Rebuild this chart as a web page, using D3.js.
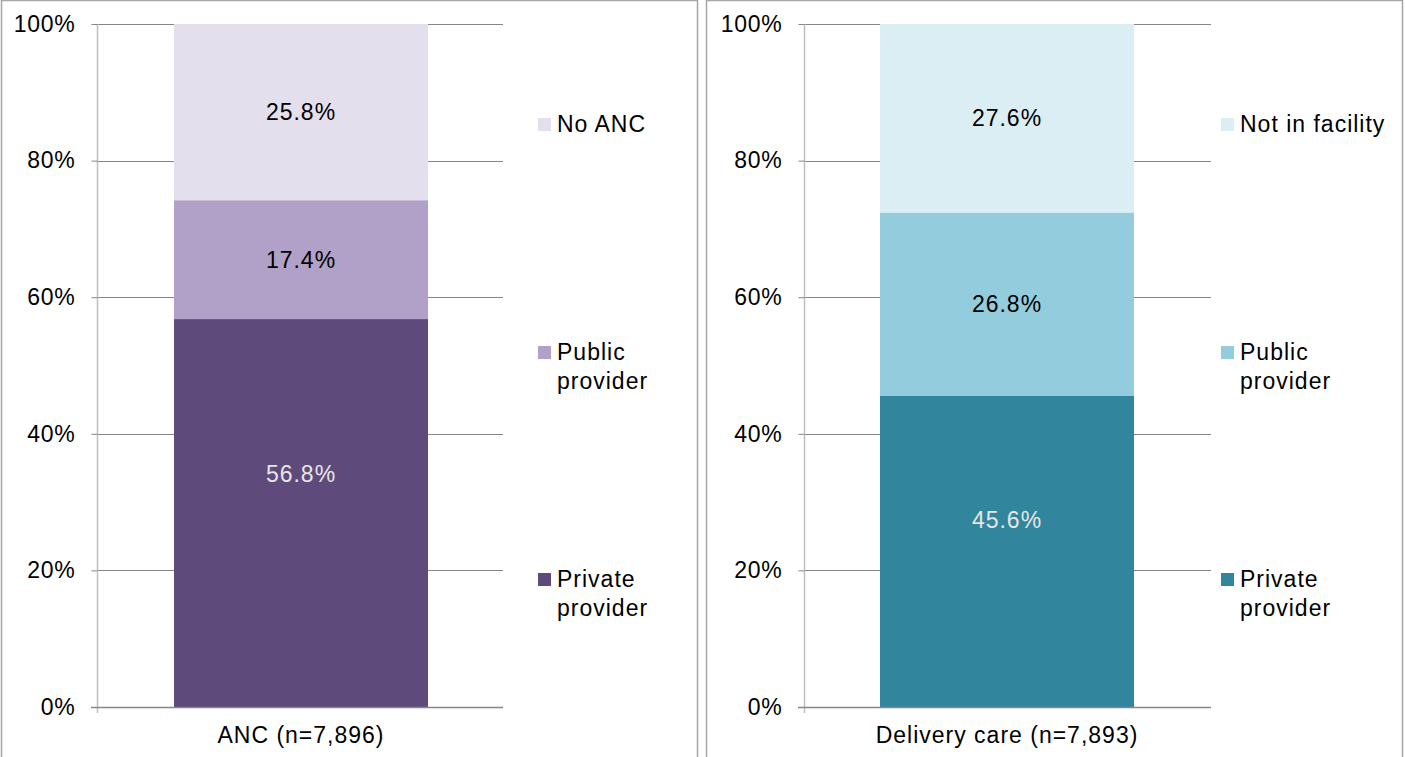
<!doctype html>
<html lang="en">
<head>
<meta charset="UTF-8">
<script src="https://d3js.org/d3.v7.min.js"></script>
<style>
body { margin: 0; background: #fff; font-family: "Liberation Sans", Arial, sans-serif; }
svg text { font-family: "Liberation Sans", Arial, sans-serif; letter-spacing: 1px; }
svg .tick text { letter-spacing: 0.7px; }
</style>
</head>
<body>
<svg id="chart" width="1405" height="757"></svg>
<script>
// data
var categories = ["Private provider", "Public provider", "No ANC"];
var ancValues = [56.8, 17.4, 25.8];
var ancLegend = ["Private\nprovider", "Public\nprovider", "No ANC"];
var ancColors = ["#5f4b7b", "#b1a0c7", "#e4dfec"];

var delivValues = [45.6, 26.8, 27.6];
var delivLegend = ["Private\nprovider", "Public\nprovider", "Not in facility"];
var delivColors = ["#31859c", "#93cddd", "#daeef3"];

var yTicks = [0, 20, 40, 60, 80, 100];

var panels = [
  {x0: 1, x1: 697, axisX: 97, gridEnd: 503, barX: 174, barW: 254, label: "ANC (n=7,896)",
   values: ancValues, legend: ancLegend, colors: ancColors, legX: 538},
  {x0: 706, x1: 1402, axisX: 804, gridEnd: 1211, barX: 880, barW: 254, label: "Delivery care (n=7,893)",
   values: delivValues, legend: delivLegend, colors: delivColors, legX: 1221}
];

// baseline of first legend line per entry
var legendBase = [587, 360, 132];
var FS = 23;

var svg = d3.select("#chart");
var y = d3.scaleLinear().domain([0, 100]).range([707, 24]);

panels.forEach(function(p) {
  var g = svg.append("g");

  g.append("rect")
    .attr("x", p.x0 + 0.5).attr("y", 0.5)
    .attr("width", p.x1 - p.x0).attr("height", 780)
    .attr("fill", "none").attr("stroke", "#a6a6a6").attr("stroke-width", 1.5);

  // gridlines
  g.selectAll(".grid").data(yTicks.slice(1)).enter().append("line")
    .attr("x1", p.axisX).attr("x2", p.gridEnd)
    .attr("y1", function(d) { return Math.round(y(d)) + 0.5; })
    .attr("y2", function(d) { return Math.round(y(d)) + 0.5; })
    .attr("stroke", "#868686").attr("stroke-width", 1);

  // stacked bar
  var cum = 0;
  var segs = p.values.map(function(v, i) {
    var s = {lo: cum, hi: cum + v, v: v, c: p.colors[i], i: i};
    cum += v;
    return s;
  });
  g.selectAll(".seg").data(segs).enter().append("rect")
    .attr("x", p.barX).attr("width", p.barW)
    .attr("y", function(d) { return y(Math.min(d.hi, 100)); })
    .attr("height", function(d) { return y(d.lo) - y(Math.min(d.hi, 100)); })
    .attr("fill", function(d) { return d.c; });

  g.selectAll(".val").data(segs).enter().append("text")
    .attr("x", p.barX + p.barW / 2)
    .attr("y", function(d) {
      var mid = d.i === 0 ? d.v * 0.6 : (d.lo + Math.min(d.hi, 100)) / 2;
      return y(mid) + 8;
    })
    .attr("text-anchor", "middle")
    .attr("font-size", FS)
    .attr("fill", function(d) { return d.i === 0 ? "#e6e6e6" : "#000"; })
    .text(function(d) { return d.v.toFixed(1) + "%"; });

  // axis
  var axis = d3.axisLeft(y).tickValues(yTicks).tickSize(6).tickPadding(16)
    .tickFormat(function(d) { return d + "%"; });
  var ag = g.append("g").attr("transform", "translate(" + (p.axisX + 0.5) + ",0)").call(axis);
  ag.select(".domain").attr("stroke", "#bfbfbf").attr("stroke-width", 1.5).attr("d", "M0,24V713");
  ag.selectAll(".tick line").attr("stroke", "#868686");
  ag.selectAll(".tick text").attr("font-size", FS).attr("fill", "#000")
    .attr("font-family", "Liberation Sans, Arial, sans-serif");

  // baseline
  g.append("line")
    .attr("x1", p.axisX - 6).attr("x2", p.gridEnd)
    .attr("y1", y(0) + 0.5).attr("y2", y(0) + 0.5)
    .attr("stroke", "#868686").attr("stroke-width", 1.5);

  // x label
  g.append("text")
    .attr("x", p.barX + p.barW / 2).attr("y", 743)
    .attr("text-anchor", "middle").attr("font-size", FS).attr("fill", "#000")
    .text(p.label);

  // legend
  p.legend.forEach(function(lab, i) {
    var lines = lab.split("\n");
    var base = legendBase[i];
    g.append("rect")
      .attr("x", p.legX).attr("y", base - 14)
      .attr("width", 13).attr("height", 13)
      .attr("fill", p.colors[i]);
    var t = g.append("text")
      .attr("x", p.legX + 19).attr("y", base)
      .attr("font-size", FS).attr("fill", "#000");
    lines.forEach(function(l, k) {
      t.append("tspan").attr("x", p.legX + 19).attr("dy", k === 0 ? 0 : 29).text(l);
    });
  });
});
</script>
</body>
</html>
